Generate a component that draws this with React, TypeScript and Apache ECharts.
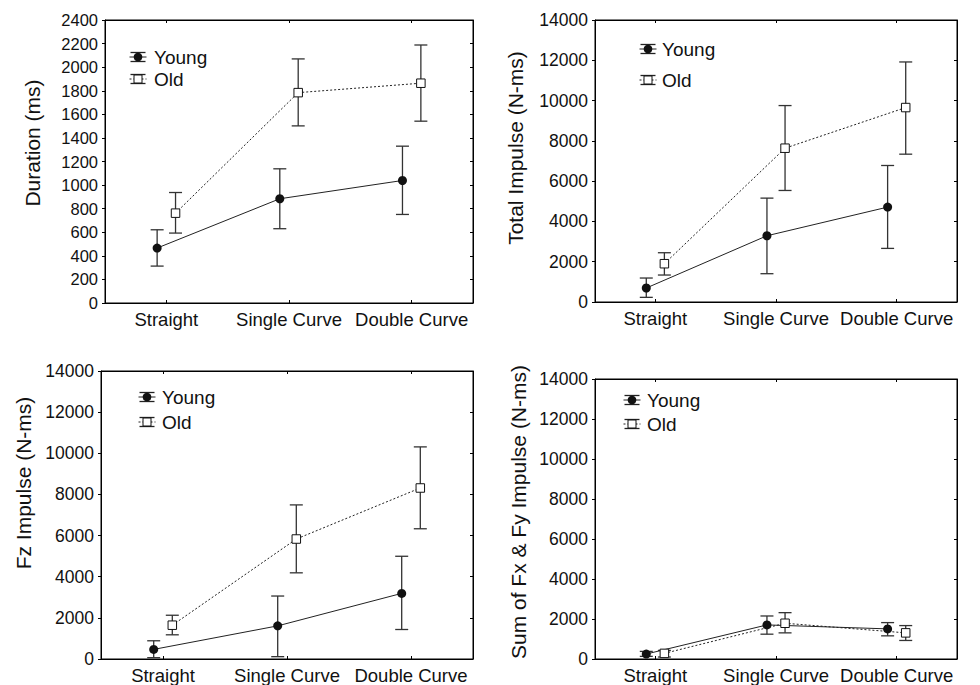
import React, { useEffect, useRef } from 'react';
import * as echarts from 'echarts';

// ---------------- data ----------------
const categories = ['Straight', 'Single Curve', 'Double Curve'];

const durationYoung = [466, 884, 1039];
const durationYoungLow = [313, 630, 751];
const durationYoungHigh = [621, 1138, 1330];
const durationOld = [762, 1784, 1864];
const durationOldLow = [593, 1502, 1542];
const durationOldHigh = [937, 2070, 2188];

const totalYoung = [694, 3289, 4711];
const totalYoungLow = [231, 1405, 2661];
const totalYoungHigh = [1190, 5157, 6777];
const totalOld = [1901, 7636, 9653];
const totalOldLow = [1339, 5537, 7339];
const totalOldHigh = [2446, 9752, 11917];

const fzYoung = [467, 1611, 3190];
const fzYoungLow = [64, 113, 1434];
const fzYoungHigh = [886, 3061, 4994];
const fzOld = [1643, 5832, 8313];
const fzOldLow = [1176, 4189, 6331];
const fzOldHigh = [2127, 7491, 10311];

const fxyYoung = [248, 1704, 1506];
const fxyYoungLow = [132, 1241, 1158];
const fxyYoungHigh = [380, 2151, 1820];
const fxyOld = [281, 1787, 1307];
const fxyOldLow = [99, 1307, 927];
const fxyOldHigh = [430, 2317, 1671];

const seriesNames = ['Young', 'Old'];
const yTitles = ['Duration (ms)', 'Total Impulse (N-ms)', 'Fz Impulse (N-ms)', 'Sum of Fx & Fy Impulse (N-ms)'];
const yMax = [2400, 14000, 14000, 14000];
const yInterval = [200, 2000, 2000, 2000];

// ---------------- layout / style ----------------
const FONT = "'Liberation Sans', Arial, Helvetica, sans-serif";
const TEXT = '#111';
const OFF = 0.075;

const panels = [
  {
    grid: { left: 105, top: 20, width: 368, height: 283 },
    tickFont: 16.5,
    title: { x: 32, y: 143 },
    legend: { ix: 138, tx: 154, y1: 57, y2: 79 },
    young: [durationYoung, durationYoungLow, durationYoungHigh],
    old: [durationOld, durationOldLow, durationOldHigh],
  },
  {
    grid: { left: 595, top: 20, width: 362, height: 282 },
    tickFont: 17.5,
    title: { x: 515, y: 148 },
    legend: { ix: 648, tx: 662, y1: 49, y2: 80 },
    young: [totalYoung, totalYoungLow, totalYoungHigh],
    old: [totalOld, totalOldLow, totalOldHigh],
  },
  {
    grid: { left: 101, top: 371, width: 372, height: 290 },
    tickFont: 17.5,
    title: { x: 23, y: 483 },
    legend: { ix: 147, tx: 162, y1: 397, y2: 422 },
    young: [fzYoung, fzYoungLow, fzYoungHigh],
    old: [fzOld, fzOldLow, fzOldHigh],
  },
  {
    grid: { left: 595, top: 379, width: 362, height: 282 },
    tickFont: 17.5,
    title: { x: 518, y: 512 },
    legend: { ix: 632, tx: 647, y1: 400, y2: 424 },
    young: [fxyYoung, fxyYoungLow, fxyYoungHigh],
    old: [fxyOld, fxyOldLow, fxyOldHigh],
  },
];

function errorBarRender(color: string) {
  return (params: any, api: any) => {
    const x = api.value(0);
    const lo = api.coord([x, api.value(1)]);
    const hi = api.coord([x, api.value(2)]);
    const hw = 6.5;
    const style = { stroke: color, lineWidth: 1.3, fill: null };
    return {
      type: 'group',
      children: [
        { type: 'line', shape: { x1: lo[0], y1: lo[1], x2: hi[0], y2: hi[1] }, style },
        { type: 'line', shape: { x1: lo[0] - hw, y1: lo[1], x2: lo[0] + hw, y2: lo[1] }, style },
        { type: 'line', shape: { x1: hi[0] - hw, y1: hi[1], x2: hi[0] + hw, y2: hi[1] }, style },
      ],
    };
  };
}

function legendItem(cx: number, cy: number, tx: number, label: string, isOld: boolean) {
  const cap = { stroke: '#222', lineWidth: 1.3 };
  return {
    type: 'group',
    children: [
      { type: 'line', shape: { x1: cx - 7.5, y1: cy - 4.5, x2: cx + 7.5, y2: cy - 4.5 }, style: cap },
      { type: 'line', shape: { x1: cx - 7.5, y1: cy + 4.5, x2: cx + 7.5, y2: cy + 4.5 }, style: cap },
      { type: 'line', shape: { x1: cx, y1: cy - 4.5, x2: cx, y2: cy + 4.5 }, style: cap },
      {
        type: 'line',
        shape: { x1: cx - 8.5, y1: cy, x2: cx + 8.5, y2: cy },
        style: { stroke: '#222', lineWidth: 1, lineDash: isOld ? [2, 2] : null },
      },
      isOld
        ? { type: 'rect', shape: { x: cx - 4, y: cy - 4, width: 8, height: 8 }, style: { fill: '#fff', stroke: '#111', lineWidth: 1 } }
        : { type: 'circle', shape: { cx, cy, r: 4.3 }, style: { fill: '#111' } },
      {
        type: 'text',
        x: tx,
        y: cy,
        style: { text: label, fontSize: 19, fontFamily: FONT, fill: TEXT, textAlign: 'left', textVerticalAlign: 'middle' },
      },
    ],
  };
}

function buildOption() {
  const grid: any[] = [];
  const xAxis: any[] = [];
  const yAxis: any[] = [];
  const series: any[] = [];
  const graphic: any[] = [];

  panels.forEach((p, i) => {
    grid.push({ ...p.grid, show: true, borderColor: '#000', borderWidth: 1, backgroundColor: 'transparent' });

    const line = { show: true, onZero: false, lineStyle: { color: '#000', width: 1 } };
    xAxis.push(
      {
        type: 'category', gridIndex: i, data: categories, position: 'bottom', boundaryGap: true,
        axisLine: line,
        axisTick: { show: true, inside: true, alignWithLabel: true, length: 3, lineStyle: { color: '#000' } },
        axisLabel: { interval: 0, margin: 7, fontSize: 18.5, color: TEXT, fontFamily: FONT },
        splitLine: { show: false },
      },
      {
        type: 'category', gridIndex: i, data: categories, position: 'top', boundaryGap: true,
        axisLine: line,
        axisTick: { show: true, inside: true, alignWithLabel: true, length: 3, lineStyle: { color: '#000' } },
        axisLabel: { show: false },
        splitLine: { show: false },
      },
      { type: 'value', gridIndex: i, min: -0.5, max: 2.5, show: false, splitLine: { show: false } },
    );
    yAxis.push(
      {
        type: 'value', gridIndex: i, min: 0, max: yMax[i], interval: yInterval[i], position: 'left',
        axisLine: line,
        axisTick: { show: true, inside: false, length: 3, lineStyle: { color: '#000' } },
        axisLabel: { margin: 7, fontSize: p.tickFont, color: TEXT, fontFamily: FONT, formatter: (v: number) => String(v) },
        splitLine: { show: false },
      },
      {
        type: 'value', gridIndex: i, min: 0, max: yMax[i], interval: yInterval[i], position: 'right',
        axisLine: line,
        axisTick: { show: true, inside: true, length: 3, lineStyle: { color: '#000' } },
        axisLabel: { show: false },
        splitLine: { show: false },
      },
    );

    const xi = i * 3 + 2;
    const yi = i * 2;
    const groups = [
      { vals: p.young, off: -OFF, old: false },
      { vals: p.old, off: OFF, old: true },
    ];
    groups.forEach((g, gi) => {
      const [m, lo, hi] = g.vals;
      series.push({
        type: 'custom', name: seriesNames[gi] + ' err', xAxisIndex: xi, yAxisIndex: yi,
        renderItem: errorBarRender('#333'),
        encode: { x: 0, y: [1, 2] },
        data: categories.map((_, k) => [k + g.off, lo[k], hi[k]]),
        z: 2, silent: true,
      });
      series.push({
        type: 'line', name: seriesNames[gi], xAxisIndex: xi, yAxisIndex: yi,
        data: categories.map((_, k) => [k + g.off, m[k]]),
        symbol: g.old ? 'rect' : 'circle',
        symbolSize: g.old ? 8.5 : 9,
        showSymbol: true,
        itemStyle: g.old
          ? { color: '#fff', borderColor: '#111', borderWidth: 1 }
          : { color: '#111', borderColor: '#111', borderWidth: 0 },
        lineStyle: { color: '#222', width: 1, type: g.old ? [2, 2] : 'solid' },
        z: 3, silent: true,
      });
    });

    graphic.push({
      type: 'text', x: p.title.x, y: p.title.y, rotation: Math.PI / 2,
      style: { text: yTitles[i], fontSize: 21, fontFamily: FONT, fill: TEXT, textAlign: 'center', textVerticalAlign: 'middle' },
    });
    graphic.push(legendItem(p.legend.ix, p.legend.y1, p.legend.tx, seriesNames[0], false));
    graphic.push(legendItem(p.legend.ix, p.legend.y2, p.legend.tx, seriesNames[1], true));
  });

  return {
    animation: false,
    backgroundColor: '#fff',
    grid, xAxis, yAxis, series, graphic,
  };
}

export default function App() {
  const ref = useRef<HTMLDivElement>(null);
  useEffect(() => {
    const chart = echarts.init(ref.current!, null, { renderer: 'svg' });
    chart.setOption(buildOption() as any);
    return () => chart.dispose();
  }, []);
  return (
    <div
      ref={ref}
      style={{ position: 'fixed', left: 0, top: 0, width: 980, height: 685, background: '#fff' }}
    />
  );
}
